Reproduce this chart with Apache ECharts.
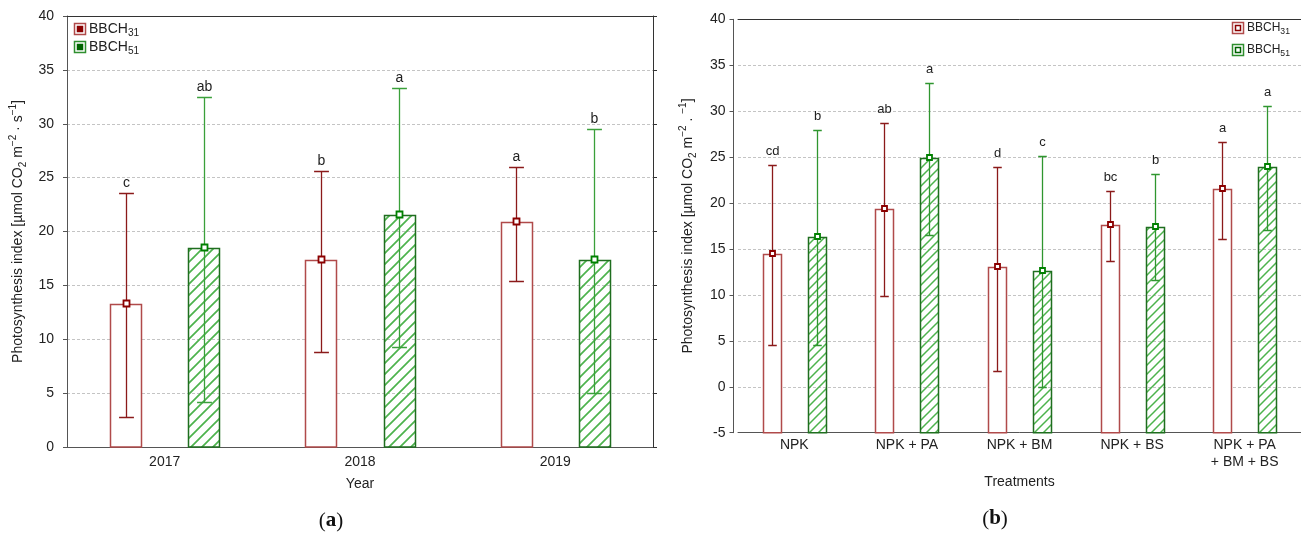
<!DOCTYPE html>
<html>
<head>
<meta charset="utf-8">
<script src="https://cdn.jsdelivr.net/npm/echarts@6/dist/echarts.min.js"></script>
<style>html,body{margin:0;padding:0;background:#fff}#c{width:1301px;height:533px}</style>
</head>
<body>
<div id="c"></div>
<script>
// ---------- DATA ----------
const yearCats = ['2017', '2018', '2019'];
const a31Mean  = [13.3, 17.4, 20.9];
const a31Lower = [2.8, 8.8, 15.4];
const a31Upper = [23.6, 25.6, 26.0];
const a31Letters = ['c', 'b', 'a'];
const a51Mean  = [18.5, 21.5, 17.4];
const a51Lower = [4.15, 9.3, 5.0];
const a51Upper = [32.5, 33.3, 29.5];
const a51Letters = ['ab', 'a', 'b'];
const yAxisA = [0, 40, 5];   // min, max, step

const treatCats = ['NPK', 'NPK + PA', 'NPK + BM', 'NPK + BS', 'NPK + PA\n+ BM + BS'];
const b31Mean  = [14.5, 19.4, 13.0, 17.6, 21.5];
const b31Lower = [4.6, 9.9, 1.7, 13.65, 16.1];
const b31Upper = [24.1, 28.7, 23.9, 21.35, 26.6];
const b31Letters = ['cd', 'ab', 'd', 'bc', 'a'];
const b51Mean  = [16.3, 24.85, 12.55, 17.4, 23.9];
const b51Lower = [4.55, 16.5, 0.0, 11.6, 17.05];
const b51Upper = [28.0, 33.1, 25.15, 23.2, 30.6];
const b51Letters = ['b', 'a', 'c', 'b', 'a'];
const yAxisB = [-5, 40, 5];

const seriesNames = ['BBCH31', 'BBCH51'];

// ---------- STYLE ----------
const FONT = "'Liberation Sans', Arial, sans-serif";
const TXT = '#222';
function hatch(size, color, lw) {
  const c = document.createElement('canvas');
  c.width = c.height = size;
  const g = c.getContext('2d');
  g.strokeStyle = color; g.lineWidth = lw;
  g.beginPath();
  g.moveTo(-2, size + 2); g.lineTo(size + 2, -2);
  g.moveTo(-2, 2); g.lineTo(2, -2);
  g.moveTo(size - 2, size + 2); g.lineTo(size + 2, size - 2);
  g.stroke();
  return c;
}
const redStyle = { fill: '#ffffff', bar: '#b04a4a', err: '#8b1a1a', mark: '#8b0000' };
const greenStyleA = { fill: { image: hatch(11, '#4db34d', 1.7), repeat: 'repeat' }, bar: '#1f6e1f', err: '#3aa03a', mark: '#008000' };
const greenStyleB = { fill: { image: hatch(9, '#4db34d', 1.5), repeat: 'repeat' }, bar: '#1f6e1f', err: '#2f962f', mark: '#008000' };

function pack(means, lows, ups) {
  return means.map((m, i) => [i, m, lows[i], ups[i]]);
}

function makeRender(side, yMin, st, letters, markSize, labelGap, fontSize) {
  return function (params, api) {
    const i = api.value(0), mean = api.value(1), lo = api.value(2), hi = api.value(3);
    const band = api.size([1, 0])[0];
    const c = api.coord([i, mean]);
    const cx = c[0] + side * 0.2 * band;
    const bw = Math.round(0.16 * band);
    const cap = 0.038 * band;
    const yM = Math.round(c[1]) + 0.5;
    const yB = api.coord([i, yMin])[1];
    const yL = Math.round(api.coord([i, lo])[1]) + 0.5;
    const yH = Math.round(api.coord([i, hi])[1]) + 0.5;
    const x = Math.round(cx) + 0.5;
    const bx = Math.round(cx - bw / 2) + 0.5;
    return {
      type: 'group',
      children: [
        { type: 'rect', shape: { x: bx, y: yM, width: bw, height: yB - yM }, style: { fill: st.fill, stroke: st.bar, lineWidth: 1.5 } },
        { type: 'line', shape: { x1: x, y1: yH, x2: x, y2: yL }, style: { stroke: st.err, lineWidth: 1.3 } },
        { type: 'line', shape: { x1: x - cap, y1: yH, x2: x + cap, y2: yH }, style: { stroke: st.err, lineWidth: 1.5 } },
        { type: 'line', shape: { x1: x - cap, y1: yL, x2: x + cap, y2: yL }, style: { stroke: st.err, lineWidth: 1.5 } },
        { type: 'rect', shape: { x: x - markSize / 2, y: yM - 1 - markSize / 2, width: markSize, height: markSize }, style: { fill: '#fff', stroke: st.mark, lineWidth: 1.8 } },
        { type: 'text', style: { text: letters[params.dataIndex], x: x, y: yH - labelGap, align: 'center', verticalAlign: 'bottom', fontSize: fontSize, fontFamily: FONT, fill: TXT } }
      ]
    };
  };
}

const yNameRich = {
  t: { fontSize: 14, fontFamily: FONT, color: TXT, lineHeight: 20 },
  sub: { fontSize: 10, fontFamily: FONT, color: TXT, lineHeight: 10, verticalAlign: 'bottom' },
  sup: { fontSize: 10, fontFamily: FONT, color: TXT, lineHeight: 10, verticalAlign: 'top' }
};
const yNameA = '{t|Photosynthesis index [µmol CO}{sub|2}{t| m}{sup|−2}{t| · s}{sup|−1}{t|]}';
const yNameB = '{t|Photosynthesis index [µmol CO}{sub|2}{t| m}{sup|−2}{t| . }{sup|−1}{t|]}';

const axisLineStyle = { color: '#555', width: 1 };
const splitStyle = { color: '#c4c4c4', type: [3, 2], width: 1 };

function legendGroup(x, y, gap, fs, innerFilled) {
  const cols = [['#8b0000', '#b04a4a'], ['#006400', '#2f8f2f']];
  const kids = [];
  seriesNames.forEach((nm, k) => {
    const yy = y + k * gap;
    const col = cols[k];
    kids.push({ type: 'rect', shape: { x: x + 0.5, y: yy + 0.5, width: 11, height: 11 }, style: { fill: '#fff', stroke: col[1], lineWidth: 1.5 } });
    kids.push({ type: 'rect', shape: { x: x + 3.5, y: yy + 3.5, width: 5, height: 5 }, style: { fill: innerFilled ? col[0] : '#fff', stroke: col[0], lineWidth: 1.5 } });
    kids.push({ type: 'text', x: x + 15, y: yy + 6, style: {
      text: '{n|' + nm.slice(0, 4) + '}{s|' + nm.slice(4) + '}',
      verticalAlign: 'middle',
      rich: {
        n: { fontSize: fs, fontFamily: FONT, fill: TXT, lineHeight: fs + 4 },
        s: { fontSize: fs * 0.72, fontFamily: FONT, fill: TXT, lineHeight: fs * 0.72, verticalAlign: 'bottom' }
      } } });
  });
  return { type: 'group', children: kids };
}

const option = {
  animation: false,
  backgroundColor: '#fff',
  grid: [
    { left: 67, top: 16, width: 586, height: 431 },
    { left: 738, top: 19.3, width: 568, height: 413.4 }
  ],
  xAxis: [
    { type: 'category', gridIndex: 0, data: yearCats, position: 'bottom',
      axisLine: { onZero: false, lineStyle: axisLineStyle }, axisTick: { inside: true, alignWithLabel: true, length: 4, lineStyle: axisLineStyle },
      axisLabel: { fontSize: 14, fontFamily: FONT, color: TXT, margin: 8 },
      splitLine: { show: false },
      name: 'Year', nameLocation: 'middle', nameGap: 30, nameTextStyle: { fontSize: 14, fontFamily: FONT, color: TXT } },
    { type: 'category', gridIndex: 0, data: yearCats, position: 'top',
      axisLine: { onZero: false, lineStyle: { color: '#333', width: 1 } }, axisTick: { inside: true, alignWithLabel: true, length: 3, lineStyle: { color: '#333' } },
      axisLabel: { show: false }, splitLine: { show: false } },
    { type: 'category', gridIndex: 1, data: treatCats, position: 'bottom',
      axisLine: { onZero: false, lineStyle: axisLineStyle }, axisTick: { inside: true, alignWithLabel: true, length: 4, lineStyle: axisLineStyle },
      axisLabel: { fontSize: 14, fontFamily: FONT, color: TXT, margin: 4, lineHeight: 17, interval: 0 },
      splitLine: { show: false },
      name: 'Treatments', nameLocation: 'middle', nameGap: 41, nameTextStyle: { fontSize: 14, fontFamily: FONT, color: TXT } },
    { type: 'category', gridIndex: 1, data: treatCats, position: 'top',
      axisLine: { onZero: false, lineStyle: { color: '#333', width: 1 } }, axisTick: { inside: true, alignWithLabel: true, length: 3, lineStyle: { color: '#333' } },
      axisLabel: { show: false }, splitLine: { show: false } }
  ],
  yAxis: [
    { type: 'value', gridIndex: 0, position: 'left', min: yAxisA[0], max: yAxisA[1], interval: yAxisA[2],
      axisLine: { show: true, onZero: false, lineStyle: axisLineStyle }, axisTick: { show: true, length: 4, lineStyle: axisLineStyle },
      axisLabel: { fontSize: 14, fontFamily: FONT, color: TXT, margin: 13 },
      splitLine: { show: true, lineStyle: splitStyle },
      name: yNameA, nameLocation: 'middle', nameGap: 39, nameRotate: 90,
      nameTextStyle: { fontSize: 14, fontFamily: FONT, color: TXT, rich: yNameRich } },
    { type: 'value', gridIndex: 0, position: 'right', min: yAxisA[0], max: yAxisA[1], interval: yAxisA[2],
      axisLine: { show: true, onZero: false, lineStyle: { color: '#333', width: 1 } }, axisTick: { show: true, length: 4, lineStyle: { color: '#333' } },
      axisLabel: { show: false }, splitLine: { show: false } },
    { type: 'value', gridIndex: 1, position: 'left', offset: 4.5, min: yAxisB[0], max: yAxisB[1], interval: yAxisB[2],
      axisLine: { show: true, onZero: false, lineStyle: axisLineStyle }, axisTick: { show: true, length: 4, lineStyle: axisLineStyle },
      axisLabel: { fontSize: 14, fontFamily: FONT, color: TXT, margin: 8 },
      splitLine: { show: true, lineStyle: splitStyle },
      name: yNameB, nameLocation: 'middle', nameGap: 35, nameRotate: 90,
      nameTextStyle: { fontSize: 14, fontFamily: FONT, color: TXT, rich: yNameRich } }
  ],
  series: [
    { name: seriesNames[0], type: 'custom', xAxisIndex: 0, yAxisIndex: 0, silent: true,
      data: pack(a31Mean, a31Lower, a31Upper), encode: { x: 0, y: [1, 2, 3] },
      renderItem: makeRender(-1, yAxisA[0], redStyle, a31Letters, 6, 3, 14) },
    { name: seriesNames[1], type: 'custom', xAxisIndex: 0, yAxisIndex: 0, silent: true,
      data: pack(a51Mean, a51Lower, a51Upper), encode: { x: 0, y: [1, 2, 3] },
      renderItem: makeRender(1, yAxisA[0], greenStyleA, a51Letters, 6, 3, 14) },
    { name: seriesNames[0], type: 'custom', xAxisIndex: 2, yAxisIndex: 2, silent: true,
      data: pack(b31Mean, b31Lower, b31Upper), encode: { x: 0, y: [1, 2, 3] },
      renderItem: makeRender(-1, yAxisB[0], redStyle, b31Letters, 5, 8, 13) },
    { name: seriesNames[1], type: 'custom', xAxisIndex: 2, yAxisIndex: 2, silent: true,
      data: pack(b51Mean, b51Lower, b51Upper), encode: { x: 0, y: [1, 2, 3] },
      renderItem: makeRender(1, yAxisB[0], greenStyleB, b51Letters, 5, 8, 13) }
  ],
  graphic: [
    legendGroup(74, 23, 18, 14, true),
    legendGroup(1232, 22, 22, 12, false),
    { type: 'text', x: 331, y: 521, style: { text: '{p|(}{b|a}{p|)}', align: 'center', verticalAlign: 'middle',
      rich: { p: { fontSize: 21, fontFamily: "'Liberation Serif', 'DejaVu Serif', serif", fill: '#111' },
              b: { fontSize: 21, fontWeight: 'bold', fontFamily: "'Liberation Serif', 'DejaVu Serif', serif", fill: '#111' } } } },
    { type: 'text', x: 995, y: 519, style: { text: '{p|(}{b|b}{p|)}', align: 'center', verticalAlign: 'middle',
      rich: { p: { fontSize: 21, fontFamily: "'Liberation Serif', 'DejaVu Serif', serif", fill: '#111' },
              b: { fontSize: 21, fontWeight: 'bold', fontFamily: "'Liberation Serif', 'DejaVu Serif', serif", fill: '#111' } } } }
  ]
};

const chart = echarts.init(document.getElementById('c'), null, { renderer: 'canvas' });
chart.setOption(option);
</script>
</body>
</html>
